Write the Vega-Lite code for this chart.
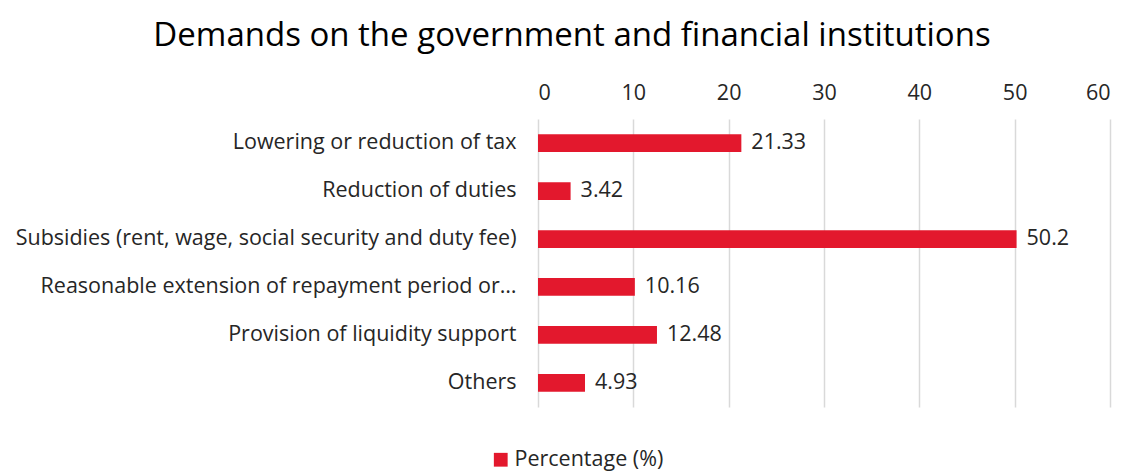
{
  "$schema": "https://vega.github.io/schema/vega-lite/v6.json",
  "autosize": {"type": "none"},
  "width": 572,
  "height": 288,
  "padding": {"left": 538, "top": 119, "right": 18, "bottom": 68},
  "background": "white",
  "title": {
    "text": "Demands on the government and financial institutions",
    "fontSize": 33,
    "font": "Open Sans",
    "fontWeight": "normal",
    "color": "#000000",
    "anchor": "middle",
    "dx": -252,
    "offset": 29
  },
  "data": {
    "values": [
      {"category": "Lowering or reduction of tax", "value": 21.33, "series": "Percentage (%)"},
      {"category": "Reduction of duties", "value": 3.42, "series": "Percentage (%)"},
      {"category": "Subsidies (rent, wage, social security and duty fee)", "value": 50.2, "series": "Percentage (%)"},
      {"category": "Reasonable extension of repayment period or…", "value": 10.16, "series": "Percentage (%)"},
      {"category": "Provision of liquidity support", "value": 12.48, "series": "Percentage (%)"},
      {"category": "Others", "value": 4.93, "series": "Percentage (%)"}
    ]
  },
  "config": {
    "view": {"stroke": null},
    "font": "Open Sans"
  },
  "encoding": {
    "y": {
      "field": "category",
      "type": "nominal",
      "sort": null,
      "title": null,
      "scale": {"paddingInner": 0.63, "paddingOuter": 0.32},
      "axis": {
        "labelFontSize": 21.5,
        "labelColor": "#262626",
        "labelPadding": 22,
        "ticks": false,
        "domain": false,
        "labelLimit": 700
      }
    },
    "x": {
      "field": "value",
      "type": "quantitative",
      "title": null,
      "scale": {"domain": [0, 60], "nice": false},
      "axis": {
        "orient": "top",
        "values": [0, 10, 20, 30, 40, 50, 60],
        "labelFontSize": 21.5,
        "labelColor": "#262626",
        "labelPadding": 15,
        "ticks": false,
        "domain": false,
        "gridColor": "#D9D9D9",
        "gridWidth": 1.5
      }
    }
  },
  "layer": [
    {
      "mark": {"type": "bar", "color": "#E3182D"},
      "encoding": {
        "color": {
          "field": "series",
          "type": "nominal",
          "scale": {"range": ["#E3182D"]},
          "legend": {
            "title": null,
            "orient": "none",
            "legendX": -48,
            "legendY": 330,
            "symbolType": "square",
            "symbolSize": 190,
            "labelFontSize": 21.5,
            "labelColor": "#262626",
            "labelOffset": 3,
            "symbolStrokeWidth": 0
          }
        }
      }
    },
    {
      "mark": {"type": "text", "align": "left", "dx": 10, "fontSize": 21.5, "color": "#262626"},
      "encoding": {
        "text": {"field": "value", "type": "quantitative"}
      }
    }
  ]
}
